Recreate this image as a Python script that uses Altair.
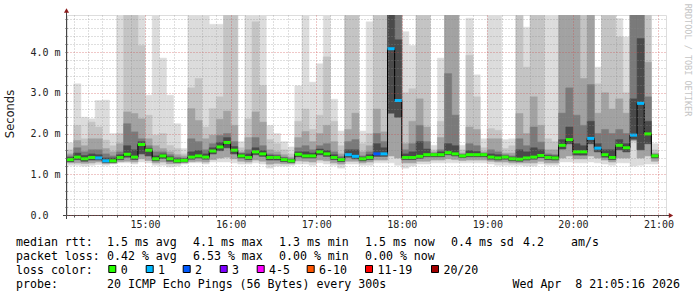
import altair as alt
import pandas as pd

# ---------------- data (ms), one value per 5-minute column from 14:05 to 21:00 ----------------
med = [1.36, 1.42, 1.38, 1.41, 1.40, 1.33, 1.33, 1.41, 1.49, 1.42,
       1.73, 1.59, 1.38, 1.45, 1.38, 1.33, 1.34, 1.42, 1.45, 1.42,
       1.57, 1.67, 1.78, 1.59, 1.45, 1.41, 1.55, 1.50, 1.41, 1.41,
       1.36, 1.33, 1.49, 1.45, 1.45, 1.55, 1.50, 1.41, 1.36, 1.48,
       1.44, 1.38, 1.41, 1.50, 1.50, 4.08, 2.81, 1.41, 1.41, 1.44,
       1.48, 1.48, 1.48, 1.53, 1.50, 1.45, 1.48, 1.48, 1.48, 1.42,
       1.40, 1.42, 1.38, 1.37, 1.40, 1.42, 1.46, 1.41, 1.40, 1.71,
       1.85, 1.55, 1.55, 1.88, 1.64, 1.48, 1.41, 1.71, 1.65, 1.96,
       2.74, 1.99, 1.45]
loss = [0, 0, 0, 0, 1, 1, 0, 0, 0, 0,
        0, 0, 0, 0, 0, 0, 0, 0, 0, 0,
        0, 0, 0, 0, 0, 0, 0, 0, 0, 0,
        0, 0, 0, 0, 0, 0, 0, 0, 0, 1,
        1, 0, 0, 2, 1, 1, 1, 0, 0, 0,
        0, 0, 0, 0, 0, 0, 0, 0, 0, 0,
        0, 0, 0, 0, 0, 0, 0, 0, 0, 0,
        0, 0, 0, 1, 1, 0, 0, 0, 0, 1,
        1, 0, 0]
top = [1.77, 3.22, 2.40, 2.36, 2.81, 2.82, 2.00, 4.91, 4.91, 4.91,
       4.91, 2.94, 4.91, 3.85, 2.94, 2.24, 1.63, 4.91, 4.91, 4.91,
       4.68, 4.68, 4.91, 4.91, 1.80, 4.91, 4.91, 4.91, 2.20, 2.00,
       1.80, 1.67, 3.17, 4.91, 3.26, 3.71, 4.91, 2.84, 2.06, 4.91,
       4.91, 2.06, 4.74, 4.91, 4.91, 4.91, 4.91, 4.50, 4.16, 4.91,
       4.91, 1.71, 3.85, 4.91, 4.91, 1.71, 4.83, 3.44, 1.87, 4.91,
       4.91, 1.85, 1.87, 4.91, 4.61, 4.91, 4.91, 4.91, 4.91, 4.91,
       4.91, 4.91, 4.91, 4.91, 3.63, 4.91, 4.91, 4.82, 4.37, 4.91,
       4.91, 4.91, 1.75]
q2 = [1.60, 2.20, 1.87, 2.28, 2.16, 1.84, 1.70, 2.00, 4.91, 4.91,
      4.16, 2.45, 1.96, 2.00, 1.71, 1.63, 1.50, 3.12, 3.35, 2.16,
      2.61, 2.90, 4.91, 4.91, 1.65, 2.36, 4.74, 3.18, 1.85, 1.75,
      1.60, 1.50, 2.30, 2.60, 2.10, 2.45, 3.88, 2.30, 1.70, 4.91,
      4.91, 1.75, 2.00, 4.91, 4.91, 4.91, 4.91, 3.00, 3.10, 4.91,
      4.91, 1.60, 2.30, 4.91, 4.91, 1.60, 3.92, 2.90, 1.65, 2.12,
      2.08, 1.63, 1.70, 4.91, 3.63, 4.91, 4.91, 1.87, 1.80, 4.91,
      4.91, 4.91, 4.91, 4.91, 3.22, 4.91, 4.91, 4.37, 3.00, 4.91,
      4.91, 4.91, 1.60]
q3 = [1.50, 1.83, 1.70, 1.87, 1.87, 1.63, 1.55, 1.75, 2.53, 2.49,
      2.36, 1.87, 1.70, 1.63, 1.55, 1.48, 1.45, 2.61, 2.32, 1.87,
      1.96, 2.35, 2.55, 2.20, 1.55, 1.90, 2.53, 2.28, 1.60, 1.55,
      1.48, 1.42, 1.90, 2.05, 1.80, 2.00, 2.20, 1.80, 1.50, 2.10,
      2.50, 1.55, 1.70, 2.60, 2.04, 4.91, 4.91, 1.75, 2.30, 2.85,
      2.16, 1.55, 1.90, 4.91, 4.91, 1.52, 2.16, 2.10, 1.55, 1.87,
      1.87, 1.52, 1.52, 2.49, 2.00, 2.90, 2.20, 1.60, 1.60, 4.91,
      4.91, 4.91, 3.35, 4.91, 2.50, 3.00, 2.60, 2.85, 2.50, 4.91,
      4.91, 3.75, 1.52]
q4 = [1.45, 1.65, 1.55, 1.60, 1.60, 1.50, 1.45, 1.55, 2.24, 2.04,
      1.87, 1.70, 1.55, 1.55, 1.48, 1.42, 1.40, 1.87, 1.80, 1.60,
      1.75, 1.95, 2.00, 1.80, 1.52, 1.60, 1.90, 1.70, 1.50, 1.48,
      1.42, 1.38, 1.65, 1.70, 1.60, 1.70, 1.75, 1.55, 1.44, 1.80,
      1.85, 1.45, 1.55, 2.00, 1.80, 4.91, 4.91, 1.60, 1.75, 2.20,
      1.80, 1.52, 1.60, 3.47, 2.45, 1.49, 1.75, 1.70, 1.52, 1.60,
      1.55, 1.48, 1.45, 1.87, 1.70, 2.16, 1.79, 1.50, 1.48, 2.50,
      3.12, 2.45, 2.20, 3.20, 2.00, 2.10, 2.00, 2.10, 2.00, 4.91,
      4.91, 2.90, 1.49]
q5 = [1.41, 1.52, 1.46, 1.50, 1.48, 1.40, 1.40, 1.48, 1.70, 1.60,
      1.80, 1.64, 1.45, 1.50, 1.43, 1.38, 1.38, 1.55, 1.58, 1.50,
      1.65, 1.78, 1.90, 1.68, 1.50, 1.50, 1.65, 1.58, 1.46, 1.45,
      1.40, 1.36, 1.55, 1.55, 1.52, 1.62, 1.58, 1.48, 1.40, 1.60,
      1.60, 1.42, 1.48, 1.75, 1.65, 4.91, 4.30, 1.50, 1.55, 1.80,
      1.62, 1.50, 1.55, 1.75, 1.70, 1.47, 1.58, 1.56, 1.50, 1.50,
      1.48, 1.45, 1.42, 1.60, 1.55, 1.65, 1.60, 1.46, 1.45, 1.85,
      2.16, 1.75, 1.70, 2.30, 1.75, 1.60, 1.60, 1.85, 1.75, 2.85,
      4.33, 2.30, 1.47]
lo = [1.22, 1.22, 1.20, 1.22, 1.24, 1.22, 1.25, 1.28, 1.28, 1.25,
      1.30, 1.28, 1.22, 1.22, 1.18, 1.20, 1.25, 1.28, 1.28, 1.25,
      1.30, 1.30, 1.30, 1.28, 1.25, 1.25, 1.28, 1.25, 1.15, 1.20,
      1.20, 1.22, 1.25, 1.25, 1.22, 1.28, 1.25, 1.22, 1.15, 1.25,
      1.25, 1.22, 1.22, 1.28, 1.28, 1.28, 1.22, 1.15, 1.20, 1.25,
      1.25, 1.28, 1.28, 1.28, 1.28, 1.28, 1.28, 1.28, 1.28, 1.25,
      1.22, 1.22, 1.22, 1.22, 1.20, 1.20, 1.25, 1.22, 1.22, 1.30,
      1.30, 1.28, 1.28, 1.30, 1.28, 1.25, 1.22, 1.28, 1.28, 1.20,
      1.22, 1.25, 1.25]
lo2 = [1.28, 1.28, 1.27, 1.28, 1.30, 1.26, 1.27, 1.31, 1.32, 1.30,
       1.38, 1.34, 1.28, 1.30, 1.26, 1.26, 1.28, 1.31, 1.32, 1.30,
       1.36, 1.40, 1.42, 1.38, 1.32, 1.30, 1.35, 1.32, 1.25, 1.27,
       1.26, 1.26, 1.33, 1.32, 1.30, 1.35, 1.33, 1.28, 1.25, 1.32,
       1.32, 1.28, 1.30, 1.35, 1.35, 1.45, 1.40, 1.28, 1.28, 1.32,
       1.32, 1.35, 1.35, 1.38, 1.36, 1.34, 1.35, 1.35, 1.35, 1.32,
       1.30, 1.30, 1.28, 1.28, 1.28, 1.28, 1.32, 1.28, 1.28, 1.40,
       1.45, 1.38, 1.38, 1.45, 1.40, 1.35, 1.30, 1.40, 1.40, 1.82,
       1.40, 1.45, 1.32]
lo3 = [1.31, 1.36, 1.32, 1.35, 1.35, 1.29, 1.29, 1.36, 1.42, 1.36,
       1.50, 1.45, 1.33, 1.39, 1.32, 1.29, 1.30, 1.37, 1.40, 1.37,
       1.50, 1.58, 1.65, 1.50, 1.40, 1.36, 1.48, 1.44, 1.35, 1.35,
       1.31, 1.29, 1.43, 1.40, 1.40, 1.48, 1.44, 1.36, 1.31, 1.42,
       1.38, 1.33, 1.36, 1.44, 1.44, 2.50, 2.40, 1.36, 1.36, 1.39,
       1.43, 1.43, 1.43, 1.48, 1.45, 1.41, 1.43, 1.43, 1.43, 1.37,
       1.35, 1.37, 1.33, 1.32, 1.35, 1.37, 1.41, 1.36, 1.35, 1.62,
       1.75, 1.47, 1.47, 1.75, 1.55, 1.42, 1.36, 1.60, 1.55, 1.86,
       1.60, 1.75, 1.40]

loss_labels = ["0", "1", "2", "3", "4-5", "6-10", "11-19", "20/20"]
loss_colors = ["#26ff00", "#00b8ff", "#0059ff", "#7e00ff", "#ff00ff", "#ff5500", "#ff0000", "#a10000"]

stats_rtt = ["1.5 ms avg", "4.1 ms max", "1.3 ms min", "1.5 ms now", "0.4 ms sd", "4.2", "am/s"]
stats_loss = ["0.42 % avg", "6.53 % max", "0.00 % min", "0.00 % now"]
probe_text = "20 ICMP Echo Pings (56 Bytes) every 300s"
stamp_text = "Wed Apr  8 21:05:16 2026"

# ---------------- tables ----------------
n = len(med)
start = [5 + 5 * k for k in range(n)]  # minutes after 14:00
df = pd.DataFrame({
    "t0": start, "t1": [s + 5 for s in start],
    "med": med, "top": top, "q2": q2, "q3": q3, "q4": q4, "q5": q5,
    "lo": lo, "lo2": lo2, "lo3": lo3,
    "lc": [loss_colors[v] for v in loss],
})
line_rows = []
for k in range(n):
    line_rows.append({"i": 2 * k, "t": start[k], "m": med[k]})
    line_rows.append({"i": 2 * k + 1, "t": start[k] + 5, "m": med[k]})
line_df = pd.DataFrame(line_rows)

# ---------------- layout ----------------
L, T, W, H = 67, 15, 599, 200
MONO = "DejaVu Sans Mono"
DARKRED = "#8c1c1c"

xscale = alt.Scale(domain=[5.27, 425.27], nice=False, zero=False)
yscale = alt.Scale(domain=[0, 4.908], nice=False, zero=False)

xaxis = alt.Axis(
    values=list(range(10, 421, 10)), title=None, domain=False, zindex=1,
    grid=True, gridDash=[1, 2], gridWidth=1,
    gridColor={"condition": {"test": "datum.value % 60 === 0", "value": "rgba(205,70,70,0.6)"},
               "value": "rgba(140,140,140,0.55)"},
    ticks=True, tickSize=2, tickColor="#555",
    labelExpr="datum.value % 60 === 0 ? (14 + datum.value / 60) + ':00' : ''",
    labelFont=MONO, labelFontSize=10, labelColor="#222", labelPadding=2,
    labelOverlap=False, labelFlush=False, labelBound=False,
)
yvals = [round(0.2 * i, 1) for i in range(0, 25)]
yaxis = alt.Axis(
    values=yvals, title=None, domain=False, zindex=1,
    grid=True, gridDash=[1, 2], gridWidth=1,
    gridColor={"condition": {"test": "abs(datum.value - round(datum.value)) < 0.001", "value": "rgba(205,70,70,0.6)"},
               "value": "rgba(140,140,140,0.55)"},
    ticks=True, tickSize=2, tickColor="#555",
    labelExpr="datum.value === 0 ? '0.0' : (abs(datum.value - round(datum.value)) < 0.001 ? format(datum.value, '.1f') + ' m' : '')",
    labelFont=MONO, labelFontSize=10, labelColor="#222", labelAlign="left", labelPadding=35,
    labelOverlap=False, labelBound=False,
)

base = alt.Chart(df)
band_defs = [("lo", "top", "#dcdcdc"), ("lo2", "q2", "#c4c4c4"), ("lo2", "q3", "#a2a2a2"),
             ("lo3", "q4", "#7a7a7a"), ("lo3", "q5", "#4a4a4a")]
layers = []
for lo_f, hi_f, col in band_defs:
    layers.append(base.mark_rect(fill=col, stroke=col, strokeWidth=0.5, clip=True).encode(
        x=alt.X("t0:Q", scale=xscale, axis=xaxis), x2="t1:Q",
        y=alt.Y(f"{lo_f}:Q", scale=yscale, axis=yaxis), y2=f"{hi_f}:Q"))

layers.append(alt.Chart(line_df).mark_line(color="#000", strokeWidth=1, clip=True).encode(
    x=alt.X("t:Q", scale=xscale, axis=xaxis), y=alt.Y("m:Q", scale=yscale, axis=yaxis),
    order="i:Q"))
layers.append(base.mark_rule(strokeWidth=3, clip=True).encode(
    x=alt.X("t0:Q", scale=xscale, axis=xaxis), x2="t1:Q",
    y=alt.Y("med:Q", scale=yscale, axis=yaxis), color=alt.Color("lc:N", scale=None)))

dummy = alt.Data(values=[{"a": 1}])

# axis lines and arrows
layers.append(alt.Chart(dummy).mark_rule(color="#444", strokeWidth=1).encode(
    x=alt.value(-0.5), y=alt.value(-5), y2=alt.value(204)))
layers.append(alt.Chart(dummy).mark_rule(color="#444", strokeWidth=1).encode(
    x=alt.value(-4), x2=alt.value(602), y=alt.value(200.5)))
layers.append(alt.Chart(dummy).mark_point(shape="triangle-up", filled=True, size=26, color=DARKRED, opacity=1).encode(
    x=alt.value(-0.5), y=alt.value(-4.5)))
layers.append(alt.Chart(dummy).mark_point(shape="triangle-right", filled=True, size=26, color=DARKRED, opacity=1).encode(
    x=alt.value(604), y=alt.value(200.5)))

# axis title and watermark
layers.append(alt.Chart(dummy).mark_text(angle=270, font="DejaVu Sans", fontSize=11.5, color="#222",
                                          align="center", baseline="middle").encode(
    x=alt.value(11 - L), y=alt.value(114 - T), text=alt.value("Seconds")))
layers.append(alt.Chart(dummy).mark_text(angle=90, font=MONO, fontSize=8.5, color="#c4c4c4",
                                          align="center", baseline="middle").encode(
    x=alt.value(688 - L), y=alt.value(60 - T), text=alt.value("RRDTOOL / TOBI OETIKER")))


def txt(xp, yp, s, align="left"):
    return alt.Chart(dummy).mark_text(align=align, baseline="alphabetic", font=MONO, fontSize=11.6,
                                      color="#000").encode(
        x=alt.value(xp - L), y=alt.value(yp - T), text=alt.value(s.replace(" ", "\u00a0")))


Y1, Y2, Y3, Y4 = 245.5, 259.8, 274, 288.2
layers.append(txt(16, Y1, "median rtt:"))
for xp, s in zip([107, 193, 279, 365, 451, 523, 571], stats_rtt):
    layers.append(txt(xp, Y1, s))
layers.append(txt(16, Y2, "packet loss:"))
for xp, s in zip([107, 193, 279, 365], stats_loss):
    layers.append(txt(xp, Y2, s))
layers.append(txt(16, Y3, "loss color:"))
sq_x = [108.3, 145.7, 182.7, 219.7, 256.7, 306.7, 365, 431]
for xp, lab, col in zip(sq_x, loss_labels, loss_colors):
    layers.append(alt.Chart(dummy).mark_rect(fill=col, stroke="#000", strokeWidth=1).encode(
        x=alt.value(xp - L + 0.5), x2=alt.value(xp - L + 7.5), y=alt.value(265.5 - T), y2=alt.value(272.5 - T)))
    layers.append(txt(xp + 12.4, Y3, lab))
layers.append(txt(16, Y4, "probe:"))
layers.append(txt(107, Y4, probe_text))
layers.append(txt(680, Y4, stamp_text, align="right"))

chart = alt.layer(*layers).properties(
    width=W, height=H,
    padding={"left": L, "top": T, "right": 697 - L - W, "bottom": 297 - T - H},
    autosize=alt.AutoSizeParams(type="none"),
).configure_view(stroke=None).configure(background="white")

chart.save("out.html", embed_options={"renderer": "svg", "actions": False})
